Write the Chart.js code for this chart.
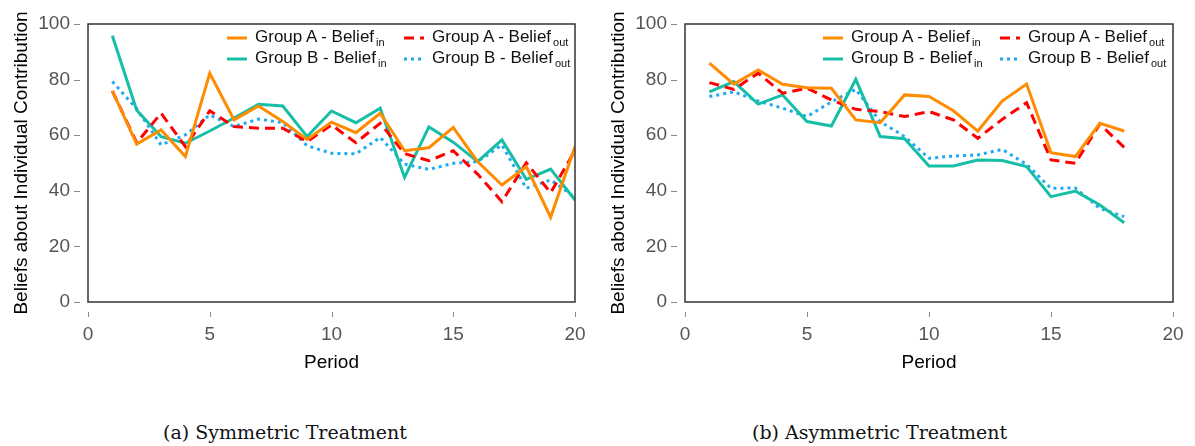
<!DOCTYPE html>
<html>
<head>
<meta charset="utf-8">
<script src="https://cdn.jsdelivr.net/npm/chart.js@4/dist/chart.umd.min.js"></script>
<style>
  body { margin: 0; width: 1195px; height: 446px; background: #fff; position: relative; overflow: hidden; font-family: "Liberation Sans", Arial, sans-serif; }
  .panel { position: absolute; top: 0; height: 390px; }
  .legend { position: absolute; display: grid; grid-template-columns: 177px 177px; grid-auto-rows: 21px; font-size: 17px; color: #111; }
  .legend .item { display: flex; align-items: center; white-space: nowrap; }
  .legend svg { margin-right: 8px; flex: none; }
  .legend sub { font-size: 11px; vertical-align: -4px; margin-left: 2px; }
  .caption { position: absolute; top: 421px; font-family: "DejaVu Serif", serif; font-size: 19px; color: #111; white-space: nowrap; }
</style>
</head>
<body>
<div class="panel" style="left:0;width:597px"><canvas id="symChart"></canvas><div class="legend" id="symLegend" style="left:227px;top:27px"></div></div>
<div class="panel" style="left:597px;width:598px"><canvas id="asymChart"></canvas><div class="legend" id="asymLegend" style="left:226px;top:27px"></div></div>
<div class="caption" style="left:163px">(a) Symmetric Treatment</div>
<div class="caption" style="left:752px">(b) Asymmetric Treatment</div>
<script>
// Periodi
const periodsSym = [1, 2, 3, 4, 5, 6, 7, 8, 9, 10, 11, 12, 13, 14, 15, 16, 17, 18, 19, 20];
const periodsAsym = [1, 2, 3, 4, 5, 6, 7, 8, 9, 10, 11, 12, 13, 14, 15, 16, 17, 18];
const yTicks = [0, 20, 40, 60, 80, 100];
const xTicks = [0, 5, 10, 15, 20];

// (a) Symmetric
const symAin  = [75.9, 56.8, 61.9, 52.3, 82.3, 65.5, 70.5, 64.9, 58.5, 64.7, 60.9, 67.9, 54.4, 55.5, 62.8, 50.5, 42.1, 48.7, 30.5, 55.9];
const symAout = [75.9, 57.3, 67.9, 55.9, 68.8, 63.1, 62.5, 62.5, 57.7, 63.7, 57.3, 64.3, 53.4, 50.8, 54.4, 46.0, 36.1, 50.1, 39.3, 54.5];
const symBin  = [95.8, 69.0, 59.5, 57.1, 61.5, 66.2, 71.1, 70.5, 59.5, 68.7, 64.5, 69.7, 44.8, 63.0, 57.5, 50.5, 58.3, 44.1, 47.8, 36.7];
const symBout = [79.3, 69.5, 56.5, 60.1, 67.3, 63.1, 65.8, 64.5, 56.2, 53.5, 53.3, 59.2, 49.6, 47.7, 49.9, 50.5, 56.5, 40.9, 43.9, 37.7];

// (b) Asymmetric
const asymAin  = [85.9, 78.4, 83.5, 78.3, 77.1, 76.9, 65.5, 64.5, 74.5, 73.9, 68.8, 61.5, 72.3, 78.4, 53.7, 52.3, 64.3, 61.5];
const asymAout = [78.9, 76.5, 82.3, 75.1, 76.9, 72.7, 69.3, 68.5, 66.7, 68.5, 65.5, 58.9, 65.7, 71.7, 51.1, 49.9, 64.0, 55.6];
const asymBin  = [75.6, 79.3, 71.2, 74.5, 64.9, 63.3, 80.1, 59.5, 58.7, 48.9, 48.9, 51.1, 50.9, 48.7, 37.9, 39.9, 34.9, 28.5];
const asymBout = [73.9, 75.6, 72.3, 69.7, 66.7, 72.0, 76.5, 64.9, 59.5, 51.7, 52.5, 52.9, 54.9, 49.5, 40.9, 41.0, 33.7, 30.7];

const seriesNames = ['Group A - Belief', 'Group A - Belief', 'Group B - Belief', 'Group B - Belief'];
const seriesSubs = ['in', 'out', 'in', 'out'];
const seriesColors = ['#FF8C00', '#FF0000', '#17BEA6', '#1EAAF2'];
const seriesDashes = [[], [10, 6], [], [3, 4]];

// cornice + tacche staccate (stile R)
const frameTicks = {
    id: 'frameTicks',
    afterDraw(chart) {
        const { ctx, chartArea: a, scales: { x, y } } = chart;
        ctx.save();
        ctx.strokeStyle = '#333';
        ctx.lineWidth = 1.5;
        ctx.strokeRect(a.left, a.top, a.right - a.left, a.bottom - a.top);
        ctx.strokeStyle = '#888';
        ctx.lineWidth = 1;
        y.ticks.forEach(t => {
            const py = Math.round(y.getPixelForValue(t.value)) + 0.5;
            ctx.beginPath(); ctx.moveTo(a.left - 14, py); ctx.lineTo(a.left - 8, py); ctx.stroke();
        });
        x.ticks.forEach(t => {
            const px = Math.round(x.getPixelForValue(t.value)) + 0.5;
            ctx.beginPath(); ctx.moveTo(px, a.bottom + 10); ctx.lineTo(px, a.bottom + 15); ctx.stroke();
        });
        ctx.restore();
    }
};

function makeDatasets(periods, lists) {
    return lists.map((vals, i) => ({
        label: seriesNames[i] + ' ' + seriesSubs[i],
        data: periods.map((p, k) => ({ x: p, y: vals[k] })),
        borderColor: seriesColors[i],
        backgroundColor: seriesColors[i],
        borderDash: seriesDashes[i],
        borderWidth: 3,
        borderCapStyle: 'butt',
        pointRadius: 0,
        tension: 0,
        fill: false
    }));
}

function makeOptions() {
    const tickFont = { family: 'Liberation Sans', size: 19 };
    const titleFont = { family: 'Liberation Sans', size: 19 };
    return {
        responsive: true,
        maintainAspectRatio: false,
        animation: false,
        layout: { padding: { top: 24, right: 22, left: 0, bottom: 0 } },
        plugins: { legend: { display: false }, tooltip: { enabled: false } },
        scales: {
            x: {
                type: 'linear', min: 0, max: 20,
                afterBuildTicks: s => { s.ticks = xTicks.map(v => ({ value: v })); },
                afterFit: s => { s.height = 88; s.paddingLeft = 0; s.paddingRight = 0; },
                grid: { display: false, drawTicks: false },
                border: { display: false },
                ticks: { font: tickFont, color: '#555', padding: 21, maxRotation: 0 },
                title: { display: true, text: 'Period', font: titleFont, color: '#000', padding: { top: 0, bottom: 16 } }
            },
            y: {
                min: 0, max: 100,
                afterBuildTicks: s => { s.ticks = yTicks.map(v => ({ value: v })); },
                afterFit: s => { s.width = 88; s.paddingTop = 0; s.paddingBottom = 0; },
                grid: { display: false, drawTicks: false },
                border: { display: false },
                ticks: { font: tickFont, color: '#555', padding: 18 },
                title: { display: true, text: 'Beliefs about Individual Contribution', font: titleFont, color: '#000', padding: { top: 10, bottom: 0 } }
            }
        }
    };
}

// legenda HTML con pedici
function buildLegend(chart, el) {
    chart.data.datasets.forEach((ds, i) => {
        const item = document.createElement('div');
        item.className = 'item';
        const dash = ds.borderDash.length ? ds.borderDash.join(',') : 'none';
        item.innerHTML = '<svg width="20" height="6"><line x1="0" y1="3" x2="20" y2="3" stroke="' + ds.borderColor +
            '" stroke-width="3" stroke-dasharray="' + dash + '"/></svg>' +
            '<span>' + seriesNames[i] + '<sub>' + seriesSubs[i] + '</sub></span>';
        el.appendChild(item);
    });
}

const symChart = new Chart(document.getElementById('symChart'), {
    type: 'line',
    data: { datasets: makeDatasets(periodsSym, [symAin, symAout, symBin, symBout]) },
    options: makeOptions(),
    plugins: [frameTicks]
});
const asymChart = new Chart(document.getElementById('asymChart'), {
    type: 'line',
    data: { datasets: makeDatasets(periodsAsym, [asymAin, asymAout, asymBin, asymBout]) },
    options: makeOptions(),
    plugins: [frameTicks]
});
buildLegend(symChart, document.getElementById('symLegend'));
buildLegend(asymChart, document.getElementById('asymLegend'));
</script>
</body>
</html>
